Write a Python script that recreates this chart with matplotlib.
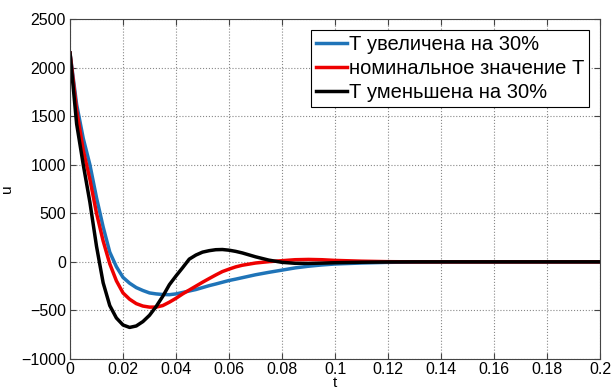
import matplotlib
matplotlib.use("Agg")
import matplotlib.pyplot as plt

plt.rcParams['font.family'] = ['Liberation Sans', 'DejaVu Sans']

# time points, s
t = [0, 0.0025, 0.005, 0.0075, 0.01, 0.0125, 0.015, 0.0175, 0.02, 0.0225,
     0.025, 0.0275, 0.03, 0.0325, 0.035, 0.0375, 0.04, 0.0425, 0.045, 0.0475,
     0.05, 0.0525, 0.055, 0.0575, 0.06, 0.0625, 0.065, 0.07, 0.075, 0.08,
     0.085, 0.09, 0.095, 0.1, 0.11, 0.12, 0.13, 0.14, 0.16, 0.18, 0.2]

# T +30%
u_up = [2150, 1620, 1270, 1000, 660, 360, 100, -50, -160, -220,
        -265, -295, -320, -330, -336, -338, -330, -315, -300, -285,
        -265, -245, -228, -210, -192, -178, -163, -133, -108, -85,
        -62, -45, -32, -22, -12, -5, -2, 0, 0, 0, 0]

# nominal T
u_nom = [2150, 1560, 1150, 850, 500, 215, -20, -195, -320, -385,
         -430, -455, -466, -466, -450, -415, -375, -330, -290, -250,
         -210, -172, -135, -100, -75, -52, -35, -12, 2, 12,
         22, 25, 22, 15, 7, 2, 0, 0, 0, 0, 0]

# T -30%
u_down = [2150, 1420, 1000, 614, 160, -215, -450, -578, -650, -675,
          -660, -615, -550, -460, -355, -235, -145, -60, 28, 70,
          100, 115, 125, 127, 120, 108, 92, 52, 18, -5,
          -15, -16, -13, -9, -4, -1, 0, 0, 0, 0, 0]

labels = ["Т увеличена на 30%", "номинальное значение Т", "Т уменьшена на 30%"]

fig = plt.figure(figsize=(6.12, 3.9), dpi=100)
ax = fig.add_axes([0.1144, 0.0795, 0.866, 0.8718])

ax.plot(t, u_up, color="#1f74b8", lw=2.5, label=labels[0])
ax.plot(t, u_nom, color="#ee0000", lw=2.5, label=labels[1])
ax.plot(t, u_down, color="black", lw=2.5, label=labels[2])

ax.set_xlim(0, 0.2)
ax.set_ylim(-1000, 2500)
ax.set_xticks([0.02 * i for i in range(11)])
ax.set_xticklabels(["0", "0.02", "0.04", "0.06", "0.08", "0.1", "0.12",
                    "0.14", "0.16", "0.18", "0.2"])
ax.set_yticks(range(-1000, 2501, 500))
ax.tick_params(direction="in", top=True, right=True, labelsize=11.5,
               length=4, color="#444444")
ax.tick_params(axis="x", pad=2)
ax.tick_params(axis="y", pad=3)
ax.grid(True, linestyle=":", color="#888888", lw=0.8)
for sp in ax.spines.values():
    sp.set_color("#444444")

ax.set_xlabel("t", fontsize=11)
ax.xaxis.set_label_coords(0.5, -0.05)
ax.set_ylabel("u", fontsize=11)
ax.yaxis.set_label_coords(-0.105, 0.5)

leg = ax.legend(loc="upper right", fontsize=14.5, handlelength=1.5,
                handletextpad=0.1, borderaxespad=0.55, labelspacing=0.25,
                fancybox=False, framealpha=1, borderpad=0.25)
leg.get_frame().set_edgecolor("black")
leg.get_frame().set_linewidth(0.8)

fig.savefig("out.png", dpi=100)
